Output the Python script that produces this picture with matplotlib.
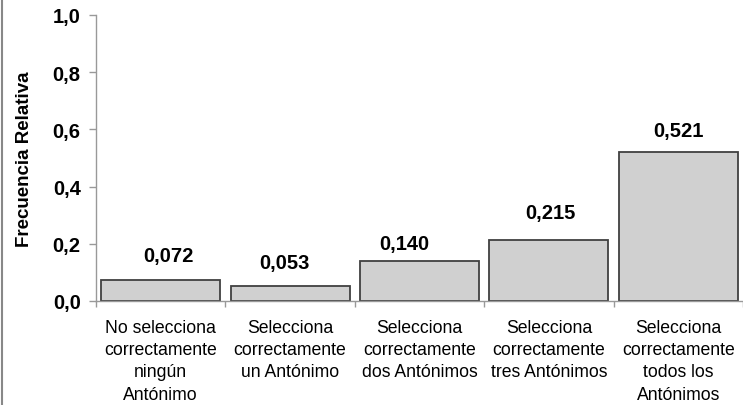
import matplotlib.pyplot as plt
from matplotlib.lines import Line2D

# Data
categorias = [
    'No selecciona\ncorrectamente\nningún\nAntónimo',
    'Selecciona\ncorrectamente\nun Antónimo',
    'Selecciona\ncorrectamente\ndos Antónimos',
    'Selecciona\ncorrectamente\ntres Antónimos',
    'Selecciona\ncorrectamente\ntodos los\nAntónimos',
]
frecuencias = [0.072, 0.053, 0.140, 0.215, 0.521]
etiquetas = ['0,072', '0,053', '0,140', '0,215', '0,521']
yticks = [0.0, 0.2, 0.4, 0.6, 0.8, 1.0]
ytick_labels = ['0,0', '0,2', '0,4', '0,6', '0,8', '1,0']

# hand-placed label offsets in the original (pixels)
label_dx = [8, -6, -15, 2, 0]
label_dy = [19, 18, 12, 22, 16]

plt.rcParams['font.family'] = ['Liberation Sans', 'DejaVu Sans']

fig = plt.figure(figsize=(7.43, 4.06), dpi=100)
ax = fig.add_axes([96 / 743, 1 - 302 / 406, 647 / 743, 286 / 406])

x = list(range(len(categorias)))
ax.bar(x, frecuencias, width=0.92, color='#d0d0d0', edgecolor='#404040', linewidth=1.3)

for xi, v, lab, dx, dy in zip(x, frecuencias, etiquetas, label_dx, label_dy):
    ax.annotate(lab, (xi, v), xytext=(dx * 0.72, dy * 0.72), textcoords='offset points',
                ha='center', va='baseline', fontsize=14.5, fontweight='bold')

ax.set_xlim(-0.5, len(categorias) - 0.5)
ax.set_ylim(0, 1.0)
ax.set_yticks(yticks)
ax.set_yticklabels(ytick_labels, fontsize=14.5, fontweight='bold')
ax.set_xticks(x)
ax.set_xticklabels(categorias, fontsize=12.7, linespacing=1.4, va='top')
ax.set_xticks([i + 0.5 for i in range(-1, len(categorias))], minor=True)

ax.tick_params(axis='x', which='major', length=0, pad=13)
ax.tick_params(axis='x', which='minor', length=4, color='#999999', width=1)
ax.tick_params(axis='y', length=5, color='#999999', width=1, pad=6)

for s in ['top', 'right']:
    ax.spines[s].set_visible(False)
for s in ['left', 'bottom']:
    ax.spines[s].set_color('#999999')
    ax.spines[s].set_linewidth(1)

ax.set_ylabel('Frecuencia Relativa', fontsize=13.5, fontweight='bold', labelpad=14)

# left frame border
fig.add_artist(Line2D([2 / 743, 2 / 743], [0, 1], color='#888888', linewidth=1.5,
                      transform=fig.transFigure))

fig.savefig('out.png', dpi=100)
